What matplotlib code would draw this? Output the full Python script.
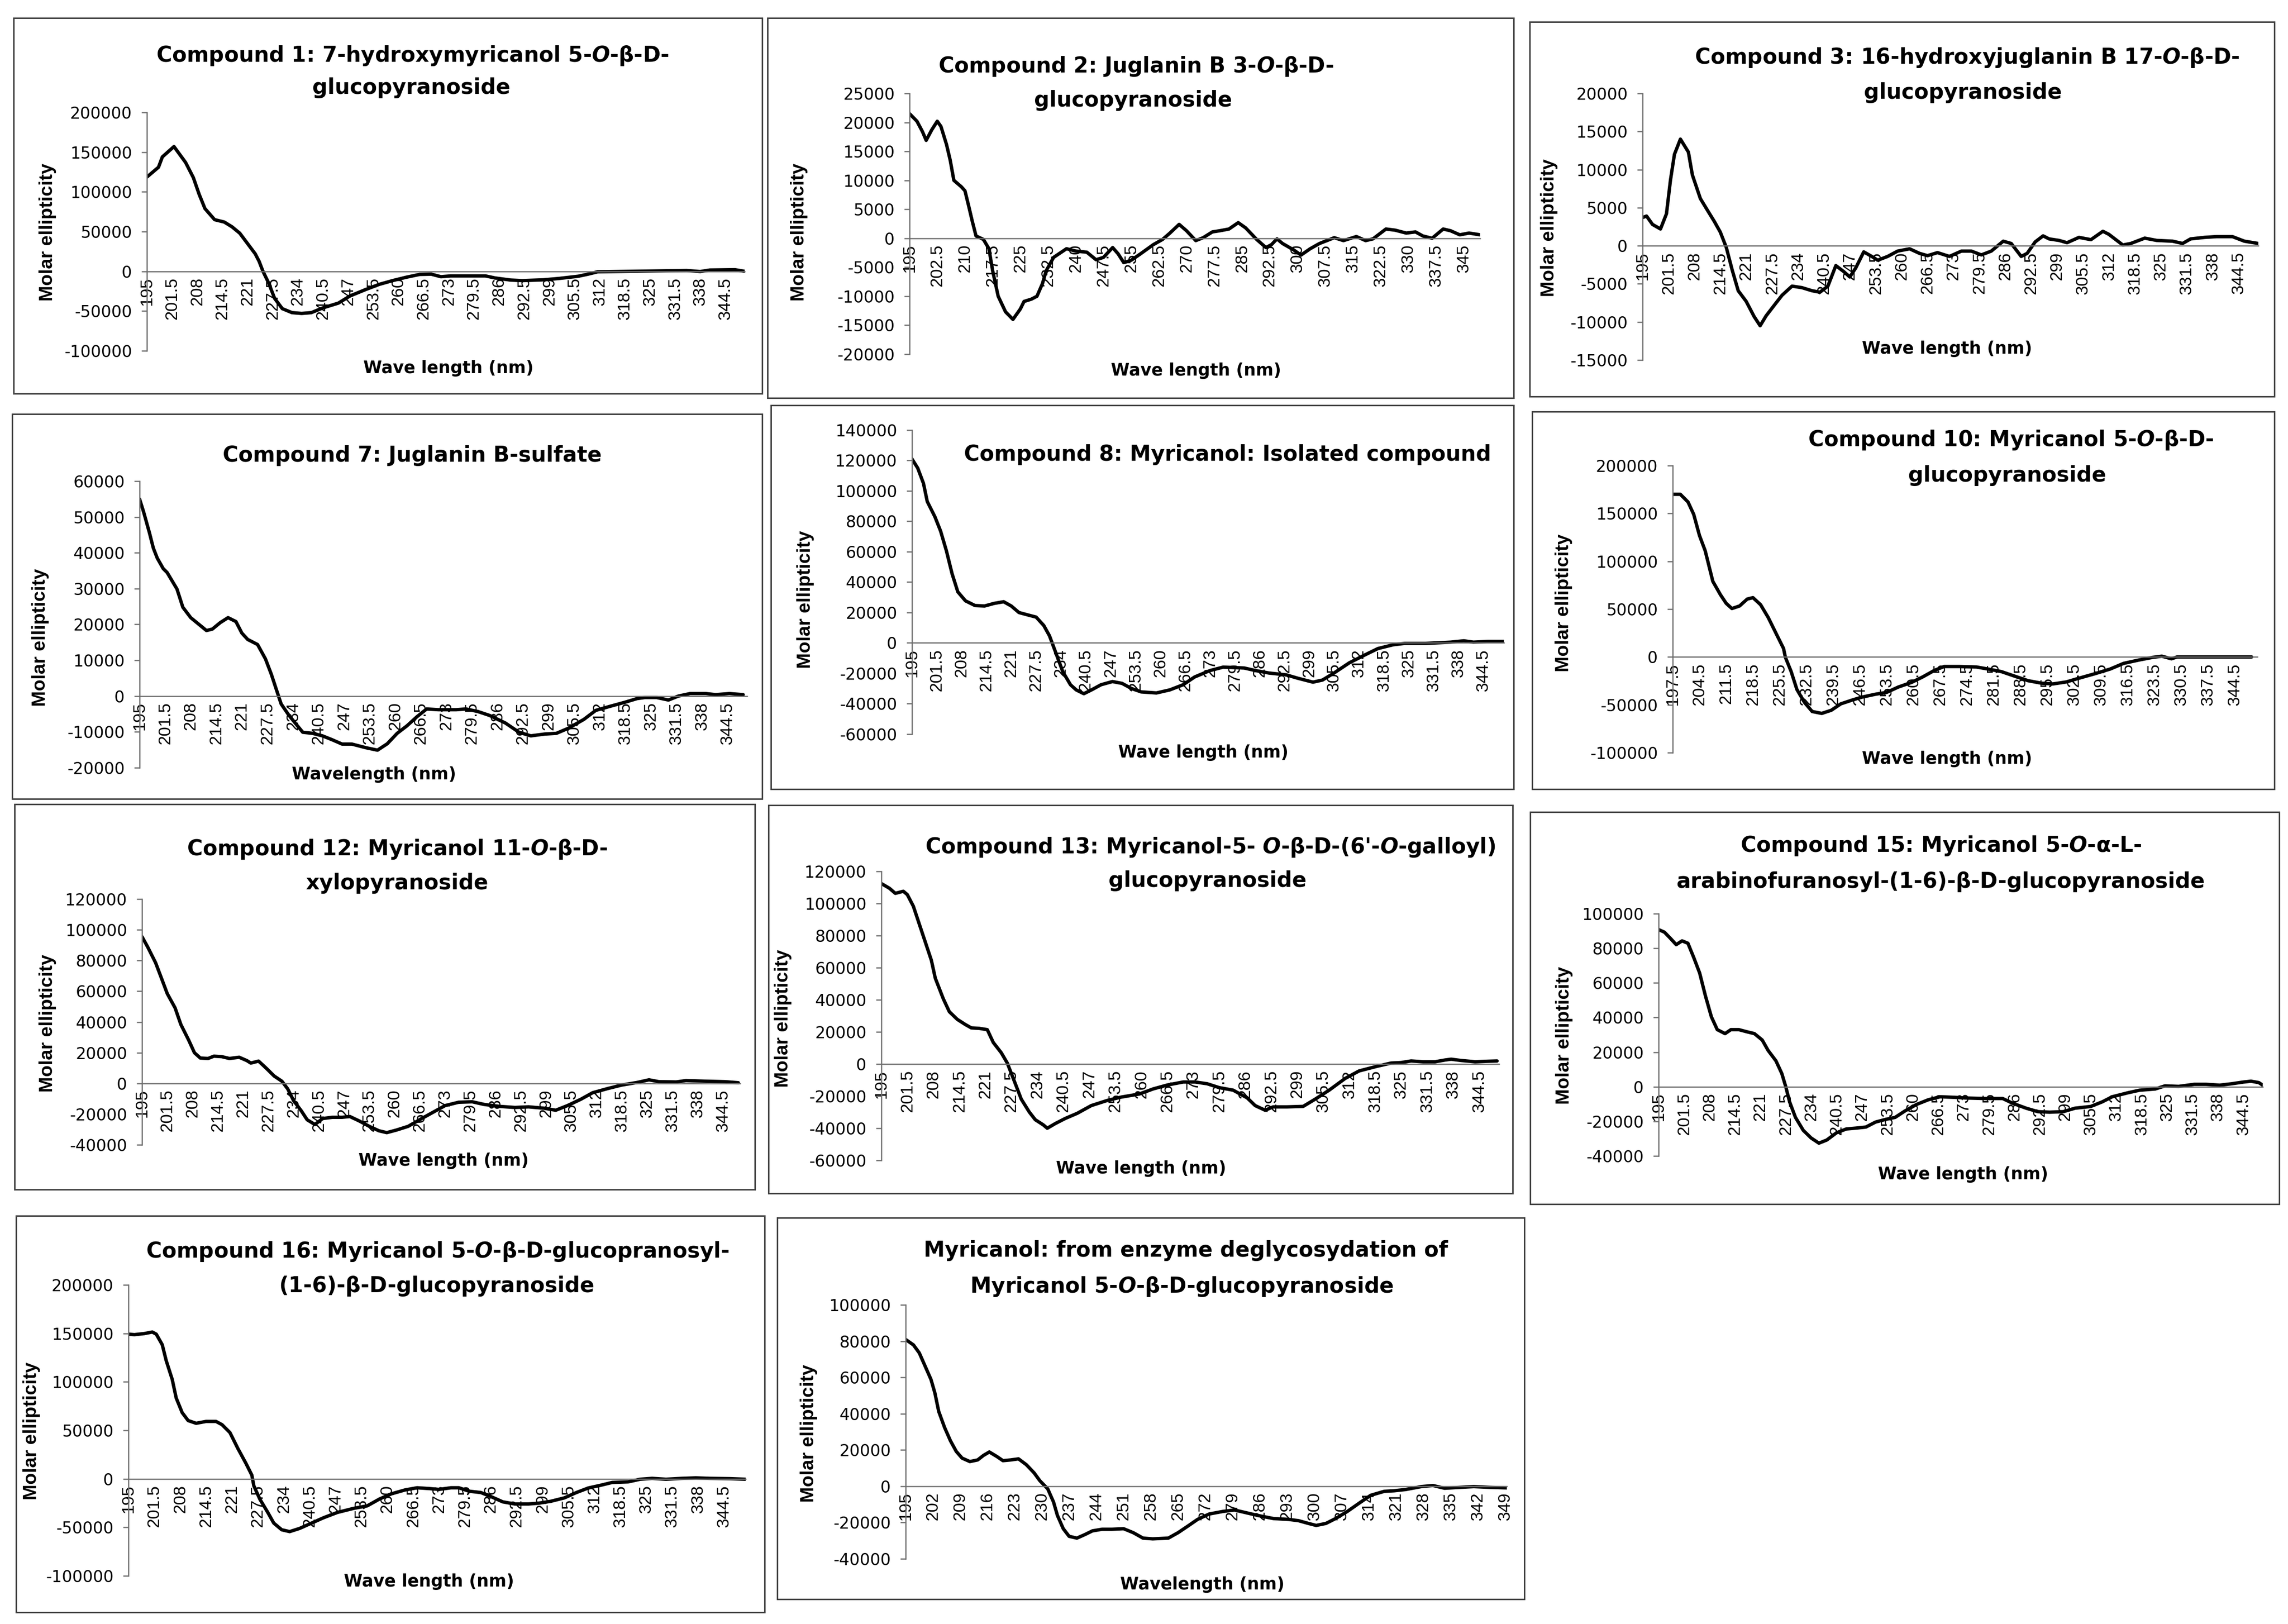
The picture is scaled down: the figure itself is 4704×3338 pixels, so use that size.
import numpy as np
import matplotlib
matplotlib.use("Agg")
import matplotlib.pyplot as plt
from matplotlib.patches import Rectangle
from matplotlib.ticker import FuncFormatter

plt.rcParams['font.family'] = ['DejaVu Sans']
plt.rcParams['axes.unicode_minus'] = False
plt.rcParams['mathtext.fontset'] = 'custom'
plt.rcParams['mathtext.it'] = 'DejaVu Sans:italic:bold'
plt.rcParams['mathtext.rm'] = 'DejaVu Sans:bold'
plt.rcParams['mathtext.bf'] = 'DejaVu Sans:bold'

# ---------------- data (wavelength nm, molar ellipticity) ----------------
c1_wl = [195, 198, 199, 202, 205, 207, 208.5, 210, 212.5, 215, 217, 219, 221, 223, 224, 225, 226.5, 228, 230, 232.5,
         235, 237.5, 240.5, 244.5, 247.5, 251.5, 255, 258.5, 262, 265.5, 268.5, 271, 273.5, 282.5, 285, 289, 292,
         297.5, 301.5, 306.5, 309, 311.5, 320.5, 334.5, 338, 340.5, 347, 349.5]
c1_me = [118600, 131000, 144000, 157000, 137000, 118000, 97000, 79000, 65000, 62000, 56000, 48000, 35000, 22000,
         12600, 0, -15000, -34000, -47000, -52000, -53000, -52000, -46000, -40000, -31000, -23000, -16500, -11700,
         -7500, -3900, -3600, -6800, -5800, -5800, -8400, -11000, -11700, -10700, -9000, -6200, -3600, -600, 0,
         1000, -300, 1600, 2000, 0]

c2_wl = [195, 197, 198.5, 199.5, 201, 202.5, 203.5, 205, 206, 207, 209, 210, 211, 212, 213, 215, 216.5, 217.5, 219,
         221, 223, 225, 226, 228, 229.5, 231, 232, 234, 237.5, 240, 243, 245.5, 247.5, 250, 251.5, 253, 255, 257.5,
         261, 263.5, 265.5, 268, 270, 272.5, 274.5, 277, 279, 281.5, 284, 286, 289, 291.5, 293, 294.5, 296, 299,
         301, 303.5, 306, 310, 312.5, 316, 318.5, 320.5, 324, 326.5, 329.5, 332, 334, 336.5, 339.5, 341.5, 344,
         346.5, 349.5]
c2_me = [21500, 20200, 18400, 16900, 18700, 20200, 19300, 16200, 13500, 10000, 8900, 8200, 5600, 2900, 400, -200,
         -1800, -5600, -10000, -12700, -14000, -12200, -10900, -10500, -10000, -7800, -5600, -3300, -1800, -2200,
         -2400, -3700, -3300, -1600, -2700, -4200, -3800, -2700, -1100, -200, 900, 2400, 1300, -400, 100, 1100,
         1300, 1600, 2700, 1800, -200, -1600, -1100, -100, -900, -2000, -2900, -1800, -900, 100, -400, 300, -400,
         -100, 1600, 1400, 900, 1100, 400, 0, 1600, 1300, 600, 900, 600]

c3_wl = [195, 196, 197.5, 199.5, 201, 202, 203, 204.5, 206.5, 207.5, 209.5, 211, 213, 214.5, 216, 217.5, 219, 221,
         223, 224.5, 226, 228.5, 230, 232.5, 235, 237.5, 239.5, 241.5, 243.5, 245.5, 247, 248.5, 250.5, 252.5, 254,
         256.5, 259, 262, 264.5, 266.5, 269, 272, 275, 277.5, 280, 282.5, 285.5, 287.5, 290, 291.5, 293.5, 295.5,
         297, 299.5, 301.5, 304.5, 307.5, 310.5, 312, 315.5, 317.5, 321, 324, 328, 330.5, 332.5, 336, 339, 343,
         346, 349.5]
c3_me = [3700, 3900, 2800, 2200, 4200, 8600, 12000, 14000, 12300, 9300, 6200, 4900, 3200, 1800, -200, -3200, -5900,
         -7300, -9300, -10500, -9200, -7500, -6500, -5300, -5500, -5900, -6100, -5300, -2600, -3400, -4100, -2900,
         -800, -1400, -1900, -1400, -700, -400, -1000, -1300, -900, -1400, -700, -700, -1200, -700, 600, 300, -1400,
         -1000, 500, 1300, 900, 700, 400, 1100, 800, 1900, 1500, 100, 300, 1000, 700, 600, 300, 900, 1100, 1200,
         1200, 600, 300]

c7_wl = [195, 196, 197.5, 198.5, 199.5, 201, 202, 204.5, 206, 208, 210, 212, 213.5, 215.5, 217.5, 219.5, 221, 222.5,
         225, 227, 228.5, 230, 231, 233, 235, 236.5, 239, 241.5, 244, 246.5, 249, 252.5, 255.5, 258, 260.5, 263,
         265.5, 268, 271, 275.5, 278, 281, 284, 288, 291.5, 294.5, 298, 301, 304, 308, 311, 314.5, 318.5, 321.5,
         323.5, 326.5, 329.5, 332, 335, 339, 341.5, 345, 348.5]
c7_me = [55000, 51500, 45600, 41300, 38500, 35600, 34500, 29900, 24800, 21900, 20100, 18300, 18700, 20500, 21900,
         20800, 17600, 15800, 14400, 10400, 6100, 1100, -2200, -5400, -8100, -10100, -10400, -11100, -12200, -13400,
         -13400, -14400, -15100, -13300, -10400, -8300, -5800, -3600, -3800, -3800, -3600, -4300, -5400, -7500,
         -10100, -11100, -10600, -10400, -9000, -6500, -4000, -2900, -1700, -700, -400, -400, -1100, 0, 700, 700,
         400, 700, 400]

c8_wl = [195, 196.5, 198, 199, 201, 202.5, 204, 205.5, 207, 209, 211.5, 214, 216.5, 219, 221, 223, 225.5, 227.5,
         229.5, 231, 232.5, 234.5, 236.5, 238, 240, 242, 244.5, 247.5, 250, 252.5, 255, 259, 262.5, 266, 269, 273,
         276.5, 282, 285, 288.5, 293, 296, 300, 302.5, 305.5, 309.5, 313.5, 317, 321, 324, 329.5, 336, 339.5, 342,
         346, 350]
c8_me = [121000, 115000, 105000, 93000, 83000, 73500, 60700, 45500, 33600, 27700, 24600, 24300, 26000, 27100, 24300,
         20000, 18300, 17000, 11500, 4700, -5400, -19000, -27500, -30900, -33400, -30900, -27500, -25400, -26600,
         -30000, -32200, -32900, -30900, -27500, -22400, -18200, -15900, -16500, -18200, -19800, -21000, -23200,
         -25800, -24400, -19800, -13100, -8000, -3700, -1200, -300, -300, 500, 1400, 500, 1000, 1000]

c10_wl = [197.5, 199.5, 201.5, 203, 204.5, 206, 207, 208, 210, 211.5, 213, 215, 217, 218.5, 220.5, 222.5, 224.5,
          226.5, 227, 228.5, 230, 232, 234, 236.5, 239, 241.5, 244.5, 247, 250.5, 253.5, 256.5, 260, 263, 266,
          268.5, 272.5, 277, 280, 283.5, 286.5, 290.5, 294, 297, 300.5, 304, 308, 312, 315.5, 319.5, 323, 325.5,
          328, 329.5, 338.5, 349]
c10_me = [170000, 170000, 162000, 149000, 127000, 111000, 95000, 79000, 65000, 56000, 50600, 53300, 60500, 62000,
          54600, 41200, 25000, 8900, -500, -15300, -34000, -47600, -57000, -59000, -55700, -49000, -45000, -42000,
          -39000, -37000, -31500, -26600, -20700, -14000, -10000, -10000, -10500, -12600, -15300, -19400, -24800,
          -27400, -28200, -26100, -22000, -17500, -12600, -6700, -3200, -500, 800, -1900, 0, 0, 0]

c12_wl = [195, 196.5, 198.5, 200, 201.5, 203.5, 205, 207, 208.5, 210, 212, 213.5, 215.5, 217.5, 220, 222, 223, 225,
          227, 229, 231, 232.5, 234, 236, 237.5, 239.5, 241.5, 244, 246.5, 248.5, 251, 253.5, 256, 258, 260.5,
          263.5, 267, 270, 273, 276.5, 280, 283, 287, 291, 294.5, 298.5, 301.5, 304.5, 308, 311, 315, 318.5, 322.5,
          325.5, 328, 332.5, 335, 340, 345, 348.5]
c12_me = [95500, 88600, 78500, 68500, 58400, 49200, 38300, 28200, 19900, 16500, 16200, 17700, 17400, 16200, 17000,
          14800, 13200, 14500, 9800, 4800, 1400, -3600, -11200, -17900, -23700, -26800, -22900, -22100, -22100,
          -21600, -24600, -28000, -30900, -32100, -30400, -28000, -22900, -18700, -14500, -12300, -12000, -13700,
          -15000, -15700, -15300, -16200, -17500, -14500, -10300, -6100, -3300, -1100, 600, 2300, 1100, 900, 1800,
          1400, 1100, 400]

c13_wl = [195, 197, 198.5, 200.5, 201.5, 203, 204.5, 206, 207.5, 208.5, 210.5, 212, 214, 216, 217.5, 219.5, 221.5,
          223, 225, 226.5, 228, 230, 232, 233.5, 235.5, 236.5, 238.5, 241, 244, 247.5, 251.5, 255, 259.5, 263,
          266.5, 270.5, 273.5, 276.5, 279.5, 283, 286.5, 288.5, 291, 293, 296.5, 300.5, 303.5, 307, 311, 314.5,
          319, 322.5, 325, 327.5, 330.5, 333.5, 336, 337.5, 340, 343.5, 346.5, 349]
c13_me = [112400, 109500, 106300, 107600, 105500, 98300, 87100, 75900, 64700, 53400, 40600, 32600, 27800, 24600,
          22500, 22200, 21400, 13400, 7000, 600, -9000, -21900, -29900, -34700, -37900, -40000, -37100, -33900,
          -30700, -25900, -22700, -20600, -18700, -15500, -13100, -11200, -11200, -12300, -14700, -16300, -21100,
          -25900, -28800, -26700, -26700, -26400, -21900, -16300, -9000, -4300, -1400, 600, 900, 1900, 1400, 1400,
          2500, 3000, 2200, 1400, 1700, 1900]

c15_wl = [195, 196.5, 198, 199.5, 201, 202.5, 204, 205.5, 207, 208.5, 210, 212, 213.5, 215.5, 217.5, 219.5, 221.5,
          223, 225, 226.5, 227.5, 228.5, 230, 232, 234, 236, 238, 240.5, 243, 245.5, 248, 250.5, 253, 255.5, 258,
          261, 264, 267, 270.5, 273.5, 278.5, 283, 285.5, 289, 292, 295, 298.5, 301.5, 305.5, 308.5, 311, 315, 318,
          322, 324.5, 328, 332, 335, 338.5, 341.5, 344.5, 346.5, 348.5, 349.5]
c15_me = [90800, 89300, 85800, 82100, 84300, 82900, 74600, 65700, 52300, 40400, 33000, 30700, 33000, 33000, 31800,
          30700, 27000, 21000, 15000, 7700, 200, -8700, -17700, -25200, -29600, -32600, -30800, -26600, -24400,
          -23900, -23300, -20400, -18900, -17700, -14000, -10200, -7500, -5800, -6100, -6500, -6800, -6800, -9500,
          -12400, -14400, -14700, -14400, -12400, -11400, -8700, -5800, -3500, -2000, -1300, 500, 200, 1400, 1400,
          900, 1700, 2700, 3200, 2400, 900]

c16_wl = [195, 196.5, 199, 201, 202, 203.5, 204.5, 206, 207, 208.5, 210, 212, 214.5, 217, 218.5, 220.5, 222.5, 224.5,
          226, 226.5, 228, 230, 231.5, 233.5, 235.5, 238, 241, 244, 247.5, 251.5, 255, 258, 261, 264.5, 267.5,
          270.5, 273, 276, 278, 280.5, 283.5, 286, 289, 292, 295.5, 298, 301, 304.5, 307.5, 310.5, 313.5, 316.5,
          320.5, 323.5, 326.5, 330, 334, 337.5, 341, 346, 350]
c16_me = [149200, 148700, 149800, 151400, 149200, 138300, 121800, 102600, 83400, 68300, 60100, 57300, 59200, 59200,
          55900, 47700, 31200, 16100, 3800, -7200, -20900, -34600, -45600, -52500, -54400, -51100, -45600, -40100,
          -34600, -30500, -27800, -20900, -15500, -11400, -9200, -10000, -10900, -9200, -9200, -12700, -14100,
          -18200, -23700, -25900, -25900, -25100, -23200, -19600, -14100, -9400, -6700, -3700, -3100, -400, 500,
          -400, 500, 1000, 500, 200, -400]

myr_wl = [195, 197, 198.5, 200, 201.5, 202.5, 203.5, 205, 206.5, 208, 209.5, 211.5, 213.5, 215, 216.5, 218.5, 220,
          222, 224, 226, 228, 229.5, 231.5, 233, 234, 235.5, 237, 239, 241, 243, 245.5, 248, 251, 253.5, 256, 258.5,
          262.5, 265, 267.5, 270, 273, 276.5, 279.5, 282.5, 285.5, 289.5, 293.5, 296, 298.5, 300.5, 303, 305.5,
          308.5, 311.5, 314.5, 318, 320.5, 323.5, 327.5, 330.5, 333.5, 337.5, 341, 345, 349.5]
myr_me = [80900, 77900, 73500, 66200, 58900, 51500, 41200, 32400, 25100, 19200, 15500, 13600, 14500, 17000, 18900,
          16300, 14100, 14500, 15100, 11900, 7400, 3000, -1400, -8700, -16100, -23400, -27600, -28600, -26700,
          -24600, -23700, -23700, -23400, -25600, -28600, -29000, -28600, -25600, -22000, -18300, -15300, -13900,
          -13100, -14600, -16100, -17800, -18300, -19000, -20500, -21600, -20500, -17800, -13900, -9400, -5000,
          -2800, -2500, -1800, -200, 400, -1100, -600, -200, -600, -900]

# ---------------- category tick labels and value ticks ----------------
ticks_65 = [195, 201.5, 208, 214.5, 221, 227.5, 234, 240.5, 247, 253.5, 260, 266.5, 273, 279.5, 286, 292.5, 299,
            305.5, 312, 318.5, 325, 331.5, 338, 344.5]
ticks_75 = [195, 202.5, 210, 217.5, 225, 232.5, 240, 247.5, 255, 262.5, 270, 277.5, 285, 292.5, 300, 307.5, 315,
            322.5, 330, 337.5, 345]
ticks_7a = [197.5, 204.5, 211.5, 218.5, 225.5, 232.5, 239.5, 246.5, 253.5, 260.5, 267.5, 274.5, 281.5, 288.5,
            295.5, 302.5, 309.5, 316.5, 323.5, 330.5, 337.5, 344.5]
ticks_7b = [195, 202, 209, 216, 223, 230, 237, 244, 251, 258, 265, 272, 279, 286, 293, 300, 307, 314, 321, 328, 335,
            342, 349]

y_a = [-100000, -50000, 0, 50000, 100000, 150000, 200000]
y_2 = [-20000, -15000, -10000, -5000, 0, 5000, 10000, 15000, 20000, 25000]
y_3 = [-15000, -10000, -5000, 0, 5000, 10000, 15000, 20000]
y_7 = [-20000, -10000, 0, 10000, 20000, 30000, 40000, 50000, 60000]
y_8 = [-60000, -40000, -20000, 0, 20000, 40000, 60000, 80000, 100000, 120000, 140000]
y_12 = [-40000, -20000, 0, 20000, 40000, 60000, 80000, 100000, 120000]
y_13 = [-60000, -40000, -20000, 0, 20000, 40000, 60000, 80000, 100000, 120000]
y_15 = [-40000, -20000, 0, 20000, 40000, 60000, 80000, 100000]

O = r"$\mathit{O}$"
titles = {
    'c1': ["Compound 1: 7-hydroxymyricanol 5-" + O + "-β-D-", "glucopyranoside"],
    'c2': ["Compound 2: Juglanin B 3-" + O + "-β-D-", "glucopyranoside"],
    'c3': ["Compound 3: 16-hydroxyjuglanin B 17-" + O + "-β-D-", "glucopyranoside"],
    'c7': ["Compound 7: Juglanin B-sulfate"],
    'c8': ["Compound 8: Myricanol: Isolated compound"],
    'c10': ["Compound 10: Myricanol 5-" + O + "-β-D-", "glucopyranoside"],
    'c12': ["Compound 12: Myricanol 11-" + O + "-β-D-", "xylopyranoside"],
    'c13': ["Compound 13: Myricanol-5- " + O + "-β-D-(6'-" + O + "-galloyl)", "glucopyranoside"],
    'c15': ["Compound 15: Myricanol 5-" + O + "-α-L-", "arabinofuranosyl-(1-6)-β-D-glucopyranoside"],
    'c16': ["Compound 16: Myricanol 5-" + O + "-β-D-glucopranosyl-", "(1-6)-β-D-glucopyranoside"],
    'myr': ["Myricanol: from enzyme deglycosydation of", "Myricanol 5-" + O + "-β-D-glucopyranoside"],
}

# ---------------- layout (pixel coordinates in the 4704x3338 canvas) ----------------
W, H = 4704, 3338
panels = [
    dict(key='c1', wl=c1_wl, me=c1_me, box=(28, 37, 1567, 809), ax=(302, 231, 1531, 721), xlim=(195, 349.5),
         xt=ticks_65, yt=y_a, tpos=[(848, 114), (846, 180)], xl=(922, 757), xlab="Wave length (nm)", yl=(98, 477)),
    dict(key='c2', wl=c2_wl, me=c2_me, box=(1578, 37, 3112, 818), ax=(1870, 192, 3043, 728), xlim=(195, 349.5),
         xt=ticks_75, yt=y_2, tpos=[(2335, 137), (2330, 207)], xl=(2459, 762), xlab="Wave length (nm)", yl=(1643, 477)),
    dict(key='c3', wl=c3_wl, me=c3_me, box=(3145, 45, 4676, 815), ax=(3377, 192, 4643, 740), xlim=(195, 349.5),
         xt=ticks_65, yt=y_3, tpos=[(4044, 119), (4036, 191)], xl=(4003, 717), xlab="Wave length (nm)", yl=(3185, 468)),
    dict(key='c7', wl=c7_wl, me=c7_me, box=(25, 851, 1567, 1642), ax=(287, 989, 1536, 1578), xlim=(195, 349.5),
         xt=ticks_65, yt=y_7, tpos=[(848, 936)], xl=(769, 1592), xlab="Wavelength (nm)", yl=(83, 1310)),
    dict(key='c8', wl=c8_wl, me=c8_me, box=(1585, 833, 3112, 1622), ax=(1875, 884, 3092, 1509), xlim=(195, 350),
         xt=ticks_65, yt=y_8, tpos=[(2524, 935)], xl=(2474, 1547), xlab="Wave length (nm)", yl=(1656, 1232)),
    dict(key='c10', wl=c10_wl, me=c10_me, box=(3150, 846, 4676, 1622), ax=(3439, 957, 4641, 1547), xlim=(197.5, 350.5),
         xt=ticks_7a, yt=y_a, tpos=[(4134, 904), (4127, 977)], xl=(4003, 1560), xlab="Wave length (nm)", yl=(3215, 1239)),
    dict(key='c12', wl=c12_wl, me=c12_me, box=(30, 1653, 1552, 2445), ax=(292, 1848, 1522, 2353), xlim=(195, 349),
         xt=ticks_65, yt=y_12, tpos=[(817, 1745), (816, 1815)], xl=(912, 2386), xlab="Wave length (nm)", yl=(98, 2103)),
    dict(key='c13', wl=c13_wl, me=c13_me, box=(1580, 1655, 3110, 2453), ax=(1812, 1791, 3082, 2385), xlim=(195, 349.5),
         xt=ticks_65, yt=y_13, tpos=[(2489, 1741), (2483, 1810)], xl=(2346, 2402), xlab="Wave length (nm)", yl=(1610, 2093)),
    dict(key='c15', wl=c15_wl, me=c15_me, box=(3146, 1669, 4686, 2475), ax=(3410, 1878, 4652, 2376), xlim=(195, 349.5),
         xt=ticks_65, yt=y_15, tpos=[(3990, 1738), (3990, 1812)], xl=(4036, 2414), xlab="Wave length (nm)", yl=(3216, 2128)),
    dict(key='c16', wl=c16_wl, me=c16_me, box=(33, 2499, 1572, 3314), ax=(264, 2641, 1533, 3239), xlim=(195, 350),
         xt=ticks_65, yt=y_a, tpos=[(900, 2572), (898, 2643)], xl=(882, 3251), xlab="Wave length (nm)", yl=(65, 2941)),
    dict(key='myr', wl=myr_wl, me=myr_me, box=(1598, 2503, 3134, 3287), ax=(1862, 2682, 3098, 3204), xlim=(195, 349.5),
         xt=ticks_7b, yt=y_15, tpos=[(2438, 2570), (2429, 2644)], xl=(2472, 3257), xlab="Wavelength (nm)", yl=(1663, 2946)),
]

fig = plt.figure(figsize=(W / 100, H / 100), dpi=100)
fig.patch.set_facecolor('white')

AXIS_COL = '#6f6f6f'
fmt_y = FuncFormatter(lambda v, p: "%d" % int(round(v)))
fmt_x = FuncFormatter(lambda v, p: "%g" % v)

for p in panels:
    bx0, by0, bx1, by1 = p['box']
    fig.add_artist(Rectangle((bx0 / W, 1 - by1 / H), (bx1 - bx0) / W, (by1 - by0) / H,
                             transform=fig.transFigure, fill=False, edgecolor='#404040', linewidth=2.2))
    ax0, ay0, ax1, ay1 = p['ax']
    ax = fig.add_axes([ax0 / W, 1 - ay1 / H, (ax1 - ax0) / W, (ay1 - ay0) / H])
    ax.patch.set_alpha(0)
    ax.plot(p['wl'], p['me'], color='black', linewidth=5, solid_joinstyle='round', solid_capstyle='round')
    ax.set_xlim(*p['xlim'])
    ax.set_ylim(p['yt'][0], p['yt'][-1])
    ax.set_yticks(p['yt'])
    ax.yaxis.set_major_formatter(fmt_y)
    ax.set_xticks(p['xt'])
    ax.xaxis.set_major_formatter(fmt_x)
    for s in ('top', 'right'):
        ax.spines[s].set_visible(False)
    ax.spines['bottom'].set_position(('data', 0))
    ax.spines['bottom'].set_color(AXIS_COL)
    ax.spines['bottom'].set_linewidth(1.8)
    ax.spines['left'].set_color(AXIS_COL)
    ax.spines['left'].set_linewidth(1.8)
    ax.tick_params(axis='x', length=0, pad=9, labelrotation=90, labelsize=25, labelcolor='black')
    for lab in ax.get_xticklabels():
        lab.set_fontfamily('Liberation Sans')
    ax.tick_params(axis='y', length=8, width=1.8, color=AXIS_COL, direction='out', pad=14,
                   labelsize=24, labelcolor='black')
    # titles
    for line, (tx, ty) in zip(titles[p['key']], p['tpos']):
        fig.text(tx / W, 1 - ty / H, line, ha='center', va='center', fontsize=31.5, fontweight='bold')
    fig.text(p['xl'][0] / W, 1 - p['xl'][1] / H, p['xlab'], ha='center', va='center',
             fontsize=25, fontweight='bold')
    fig.text(p['yl'][0] / W, 1 - p['yl'][1] / H, "Molar ellipticity", ha='center', va='center',
             rotation=90, fontsize=28, fontweight='bold', fontfamily='Liberation Sans')

fig.savefig('out.png', dpi=100, facecolor='white')
